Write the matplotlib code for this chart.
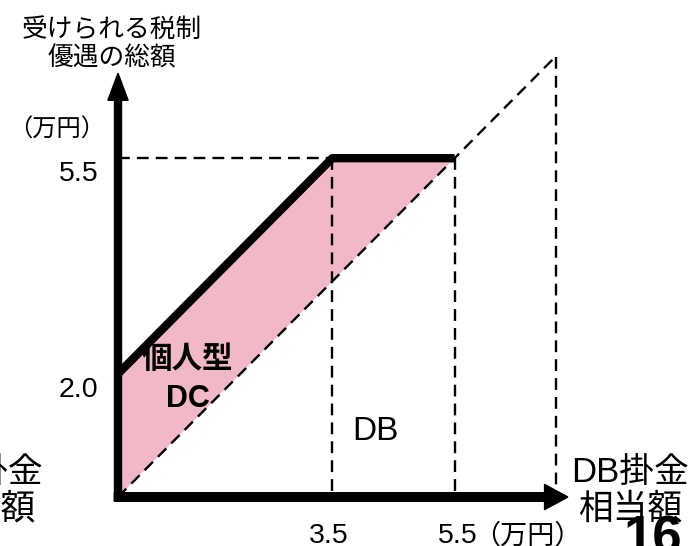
import matplotlib.pyplot as plt
from matplotlib.patches import Polygon

plt.rcParams["font.family"] = ["Liberation Sans", "Noto Sans CJK JP", "DejaVu Sans"]

# 個人型DCの枠 (税制優遇の上限ライン)
dc_x = [0, 3.5, 5.5]
dc_y = [2.0, 5.5, 5.5]
# DB掛金相当額 = 45度線
db_end = 7.15
y_ticks = [5.5, 2.0]
y_tick_labels = ["5.5", "2.0"]
x_ticks = [3.5, 5.5]
x_tick_labels = ["3.5", "5.5"]
unit = "（万円）"

pink = "#F1B8C5"
dash = (0, (5, 3))

fig = plt.figure(figsize=(6.91, 5.46), dpi=100)
ax = fig.add_axes([0, 0, 1, 1])
ax.set_xlim(-118 / 61.2, 573 / 61.2)
ax.set_ylim(-49 / 61.6, 497 / 61.6)
ax.axis("off")

# 塗りつぶし部分
poly = [(0, 0), (dc_x[0], dc_y[0])] + list(zip(dc_x[1:], dc_y[1:])) + [(0, 0)]
ax.add_patch(Polygon(poly, closed=True, facecolor=pink, edgecolor="none", zorder=1))

# 点線
ax.plot([0, db_end], [0, db_end], color="black", lw=1.7, ls=dash, zorder=2)
ax.plot([db_end, db_end], [db_end, 0], color="black", lw=1.7, ls=dash, zorder=2)
ax.plot([0, dc_x[1]], [dc_y[1], dc_y[1]], color="black", lw=1.7, ls=dash, zorder=2)
for xv, yv in zip(dc_x[1:], dc_y[1:]):
    ax.plot([xv, xv], [yv, 0], color="black", lw=1.7, ls=dash, zorder=2)

# 太線
ax.plot(dc_x, dc_y, color="black", lw=6, solid_capstyle="butt", zorder=3)

# 軸の矢印
ax.arrow(0, -0.06, 0, 6.94, width=0.115, head_width=0.33, head_length=0.44,
         length_includes_head=True, color="black", zorder=4)
ax.arrow(-0.06, 0, 7.41, 0, width=0.14, head_width=0.41, head_length=0.38,
         length_includes_head=True, color="black", zorder=4)

# 目盛りラベル
for yv, lab in zip(y_ticks, y_tick_labels):
    ax.annotate(lab, (-0.64, yv), xytext=(0, -2), textcoords="offset points",
                ha="center", va="top", fontsize=20.5)
ax.text(x_ticks[0] - 0.05, -0.64, x_tick_labels[0], ha="center", va="center", fontsize=20.5)
ax.text(x_ticks[1] - 0.28, -0.64, x_tick_labels[1], ha="left", va="center", fontsize=20.5)
ax.text(5.80, -0.64, unit, ha="left", va="center", fontsize=19.5)

ax.text(-1.01, 5.96, unit, ha="center", va="center", fontsize=17.5)
ax.text(-0.1, 7.35, "受けられる税制\n優遇の総額", ha="center", va="center",
        fontsize=18.5, linespacing=1.2)

ax.text(1.14, 2.22, "個人型", ha="center", va="center", fontsize=22, fontweight="bold")
ax.text(1.14, 1.59, "DC", ha="center", va="center", fontsize=22, fontweight="bold")
ax.text(4.2, 1.07, "DB", ha="center", va="center", fontsize=24)

ax.text(8.37, 0.1, "DB掛金\n相当額", ha="center", va="center", fontsize=25,
        linespacing=1.15, multialignment="center")
ax.text(-2.2, 0.1, "DC掛金\n相当額", ha="center", va="center", fontsize=25,
        linespacing=1.15, multialignment="center")

ax.text(8.26, -0.28, "16", ha="left", va="top", fontsize=38, fontweight="bold")

fig.savefig("out.png", dpi=100)
